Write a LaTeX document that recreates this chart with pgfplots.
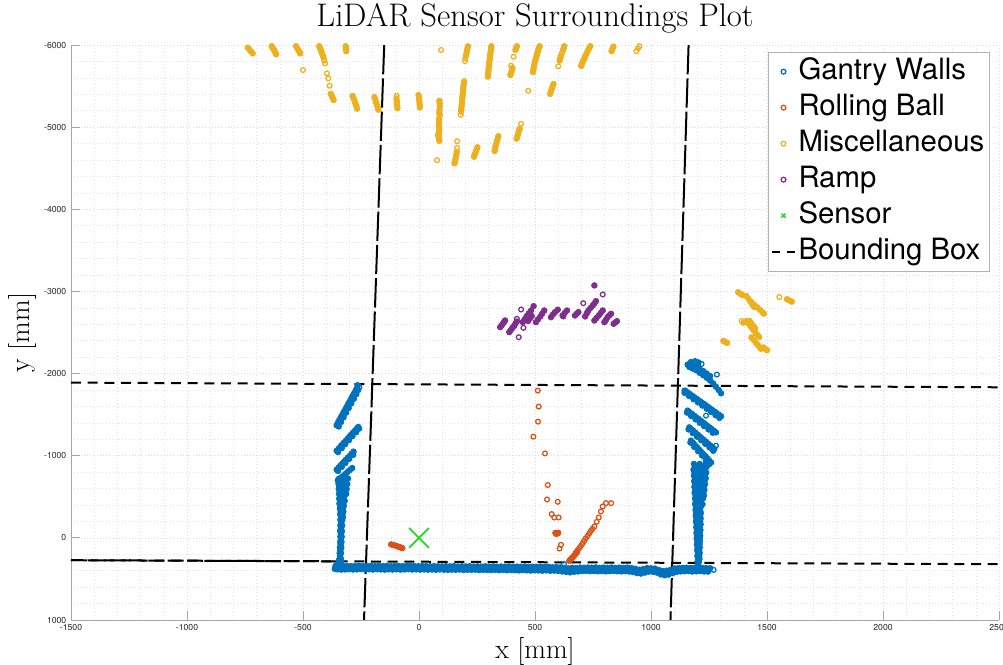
\documentclass[border=0pt]{standalone}
\usepackage{fontspec}
\usepackage{pgfplots}
\pgfplotsset{compat=1.18}
\newfontfamily\heros{TeX Gyre Heros}
\definecolor{mblue}{RGB}{0,114,189}
\definecolor{morange}{RGB}{217,83,25}
\definecolor{myellow}{RGB}{237,177,32}
\definecolor{mpurple}{RGB}{126,47,142}
\definecolor{mgreen}{RGB}{30,220,30}
\pgfplotsset{
  openpt/.style={only marks, mark=o, mark size=1.8pt, line width=0.95pt},
  fillpt/.style={only marks, mark=*, mark size=2.15pt, line width=0.5pt, forget plot},
}
\begin{document}
\begin{tikzpicture}
\begin{axis}[
  scale only axis, width=696pt, height=431.25pt,
  xmin=-1500, xmax=2500, ymin=-6000, ymax=1000, y dir=reverse,
  xtick={-1500,-1000,-500,0,500,1000,1500,2000,2500},
  xticklabels={-1500,-1000,-500,0,500,1000,1500,2000,2500},
  ytick={-6000,-5000,-4000,-3000,-2000,-1000,0,1000},
  yticklabels={-6000,-5000,-4000,-3000,-2000,-1000,0,1000},
  minor x tick num=4, minor y tick num=4,
  grid=both,
  major grid style={gray!28, dotted, line width=0.45pt},
  minor grid style={gray!22, dotted, line width=0.4pt},
  axis x line*=bottom, axis y line*=left,
  axis line style={gray!70, line width=0.6pt},
  tick align=inside, major tick length=6.5pt, minor tick length=0pt,
  tick style={gray!70, line width=0.6pt},
  tick label style={font=\heros\fontsize{6.5}{7}\selectfont, black!85},
  title={LiDAR Sensor Surroundings Plot},
  title style={at={(axis description cs:0.5,1)}, anchor=base, yshift=8pt, font=\fontsize{24.5}{28}\selectfont},
  xlabel={x [mm]}, ylabel={y [mm]},
  xlabel style={at={(axis description cs:0.5,0)}, anchor=base, yshift=-29pt, font=\fontsize{21}{25}\selectfont},
  ylabel style={at={(axis description cs:0,0.5)}, anchor=base, yshift=31pt, font=\fontsize{21}{25}\selectfont},
  legend cell align=left,
  legend image code/.code={\draw[mark repeat=2,mark phase=2,#1] plot coordinates {(0pt,0pt) (8.5pt,0pt) (17pt,0pt)};},
  legend style={at={(axis description cs:1,1)}, anchor=north east, xshift=-6.75pt, yshift=-5.25pt,
    draw=gray!60, fill=white, line width=0.5pt, font=\heros\fontsize{22}{26}\selectfont,
    row sep=0pt, inner xsep=2pt, inner ysep=1pt,
    nodes={inner xsep=2pt, inner ysep=1.75pt, text height=17.5pt, text depth=6pt}},
]
% ---------- dense (filled) point clusters ----------
% Gantry walls: bottom wall, row A
\addplot[fillpt, color=mblue] table[row sep=\\] {x y\\
-360 342\\ -343 344\\ -326 341\\ -309 343\\ -292 345\\ -275 342\\ -258 340\\ -241 344\\ -224 343\\ -207 341\\
-190 345\\ -173 342\\ -156 344\\ -139 341\\ -122 346\\ -105 343\\ -88 342\\ -71 345\\ -54 343\\ -37 341\\
-20 344\\ -3 346\\ 14 343\\ 31 345\\ 48 347\\ 65 344\\ 82 346\\ 99 348\\ 116 345\\ 133 347\\
150 344\\ 167 349\\ 184 346\\ 201 348\\ 218 345\\ 235 350\\ 252 347\\ 269 349\\ 286 346\\ 303 351\\
320 348\\ 337 352\\ 354 349\\ 371 351\\ 388 348\\ 405 353\\ 422 350\\ 439 352\\ 456 349\\ 473 354\\
490 351\\ 507 353\\ 524 350\\ 541 355\\ 558 352\\ 575 358\\ 592 356\\ 609 360\\ 626 366\\ 643 371\\
660 364\\ 677 368\\ 694 362\\ 711 364\\ 728 361\\ 745 363\\ 762 360\\ 779 365\\ 796 362\\ 813 364\\
830 361\\ 847 366\\ 864 363\\ 881 365\\ 898 362\\ 915 367\\ 932 376\\ 949 388\\ 966 380\\ 983 368\\
1000 371\\ 1017 374\\ 1034 391\\ 1051 404\\ 1068 400\\ 1085 388\\ 1102 372\\ 1119 368\\ 1136 366\\ 1153 364\\
1170 367\\ 1187 365\\ 1204 363\\ 1221 366\\ 1238 368\\ 1255 370\\
};
% bottom wall, row B
\addplot[fillpt, color=mblue] table[row sep=\\] {x y\\
-352 383\\ -335 387\\ -318 385\\ -301 382\\ -284 386\\ -267 384\\ -250 381\\ -233 385\\ -216 383\\ -199 386\\
-182 382\\ -165 385\\ -148 387\\ -131 384\\ -114 386\\ -97 383\\ -80 387\\ -63 385\\ -46 382\\ -29 386\\
-12 384\\ 5 387\\ 22 385\\ 39 388\\ 56 386\\ 73 389\\ 90 385\\ 107 388\\ 124 390\\ 141 387\\
158 389\\ 175 386\\ 192 391\\ 209 388\\ 226 390\\ 243 387\\ 260 392\\ 277 389\\ 294 391\\ 311 393\\
328 390\\ 345 394\\ 362 391\\ 379 395\\ 396 392\\ 413 394\\ 430 397\\ 447 393\\ 464 396\\ 481 398\\
498 395\\ 515 397\\ 532 400\\ 549 396\\ 566 401\\ 583 399\\ 600 403\\ 617 409\\ 634 415\\ 651 420\\
668 413\\ 685 409\\ 702 405\\ 719 403\\ 736 406\\ 753 404\\ 770 407\\ 787 405\\ 804 408\\ 821 406\\
838 403\\ 855 407\\ 872 409\\ 889 406\\ 906 410\\ 923 417\\ 940 430\\ 957 435\\ 974 423\\ 991 411\\
1008 413\\ 1025 423\\ 1042 445\\ 1059 455\\ 1076 447\\ 1093 430\\ 1110 415\\ 1127 409\\ 1144 407\\ 1161 405\\
1178 410\\ 1195 408\\ 1212 405\\ 1229 409\\ 1246 411\\
};
% left wall column
\addplot[fillpt, color=mblue] table[row sep=\\] {x y\\
-345 -720\\ -324 -718\\ -306 -722\\ -342 -688\\ -318 -690\\ -347 -657\\ -326 -660\\ -309 -655\\
-343 -626\\ -320 -630\\ -346 -596\\ -327 -600\\ -312 -594\\ -341 -566\\ -322 -570\\ -345 -536\\
-328 -540\\ -314 -535\\ -340 -506\\ -322 -510\\ -344 -476\\ -327 -480\\ -339 -446\\ -320 -450\\
-343 -416\\ -328 -420\\ -338 -386\\ -324 -390\\ -341 -356\\ -329 -352\\ -337 -322\\ -326 -318\\
-340 -288\\ -330 -284\\ -336 -254\\ -328 -250\\ -339 -220\\ -331 -216\\ -336 -186\\ -339 -152\\
-331 -150\\ -337 -118\\ -340 -84\\ -332 -82\\ -337 -50\\ -339 -16\\ -333 -14\\ -337 18\\
-340 52\\ -334 50\\ -338 86\\ -341 120\\ -335 118\\ -339 154\\ -342 188\\ -336 186\\
-340 222\\ -343 256\\ -337 254\\ -346 290\\ -336 288\\ -352 320\\ -338 322\\ -358 350\\
-343 352\\ -363 378\\ -348 380\\
};
% left wall streaks
\addplot[fillpt, color=mblue] table[row sep=\\] {x y\\
-355 -1370\\ -350 -1398\\ -345 -1425\\ -339 -1455\\ -334 -1482\\ -328 -1510\\ -323 -1538\\ -317 -1566\\
-312 -1594\\ -306 -1624\\ -301 -1650\\ -295 -1680\\ -290 -1706\\ -284 -1736\\ -279 -1762\\ -273 -1792\\
-268 -1820\\ -264 -1858\\
-346 -1356\\ -336 -1411\\ -325 -1468\\ -314 -1524\\ -303 -1580\\ -292 -1636\\ -281 -1692\\ -270 -1748\\ -262 -1800\\
-355 -1060\\ -347 -1084\\ -339 -1108\\ -332 -1132\\ -324 -1157\\ -316 -1181\\ -308 -1205\\ -301 -1229\\
-293 -1253\\ -285 -1278\\ -277 -1302\\ -270 -1326\\ -262 -1350\\
-349 -1044\\ -333 -1092\\ -318 -1141\\ -302 -1189\\ -287 -1238\\ -271 -1286\\ -258 -1330\\
-355 -830\\ -347 -854\\ -339 -879\\ -331 -903\\ -323 -928\\ -315 -952\\ -307 -977\\ -298 -1001\\
-290 -1026\\ -282 -1050\\
-349 -814\\ -333 -863\\ -317 -912\\ -301 -961\\ -284 -1010\\
-350 -700\\ -340 -725\\ -329 -750\\ -319 -775\\ -309 -800\\ -298 -825\\ -288 -850\\
};
% right wall streaks
\addplot[fillpt, color=mblue] table[row sep=\\] {x y\\
1158 -2110\\ 1172 -2140\\ 1190 -2150\\ 1205 -2135\\ 1165 -2080\\ 1180 -2060\\ 1195 -2040\\ 1210 -2010\\
1225 -1980\\ 1240 -1950\\ 1255 -1915\\ 1268 -1880\\ 1280 -1840\\ 1292 -1800\\ 1302 -1760\\
1180 -2110\\ 1195 -2085\\ 1210 -2060\\ 1225 -2030\\ 1240 -2000\\ 1255 -1970\\
1148 -1790\\ 1158 -1771\\ 1167 -1752\\ 1177 -1732\\ 1186 -1713\\ 1196 -1694\\ 1206 -1674\\ 1215 -1655\\
1225 -1636\\ 1235 -1616\\ 1244 -1597\\ 1254 -1577\\ 1263 -1558\\ 1273 -1539\\ 1283 -1519\\ 1292 -1500\\ 1302 -1480\\
1145 -1765\\ 1164 -1727\\ 1183 -1688\\ 1202 -1650\\ 1221 -1611\\ 1240 -1572\\ 1259 -1533\\ 1278 -1494\\ 1295 -1460\\
1158 -1549\\ 1167 -1529\\ 1177 -1508\\ 1186 -1488\\ 1195 -1467\\ 1205 -1447\\ 1214 -1427\\ 1224 -1406\\
1233 -1386\\ 1242 -1366\\ 1252 -1345\\ 1261 -1325\\ 1271 -1304\\ 1280 -1284\\
1155 -1525\\ 1173 -1484\\ 1192 -1443\\ 1210 -1402\\ 1229 -1361\\ 1248 -1320\\ 1266 -1280\\
1165 -1345\\ 1174 -1323\\ 1183 -1301\\ 1192 -1279\\ 1201 -1257\\ 1210 -1235\\ 1219 -1213\\ 1228 -1191\\
1237 -1170\\ 1246 -1148\\ 1255 -1126\\ 1264 -1104\\ 1273 -1082\\
1162 -1320\\ 1180 -1276\\ 1198 -1232\\ 1216 -1188\\ 1234 -1145\\ 1252 -1101\\ 1268 -1060\\
1172 -1183\\ 1181 -1157\\ 1189 -1130\\ 1198 -1104\\ 1207 -1077\\ 1215 -1051\\ 1224 -1024\\ 1233 -998\\
1242 -971\\ 1250 -945\\ 1259 -918\\
1170 -1160\\ 1186 -1108\\ 1203 -1055\\ 1220 -1002\\ 1236 -950\\ 1252 -900\\
};
% right wall column
\addplot[fillpt, color=mblue] table[row sep=\\] {x y\\
1185 -900\\ 1210 -900\\ 1235 -900\\ 1190 -865\\ 1215 -865\\ 1240 -865\\ 1183 -830\\ 1208 -830\\ 1232 -830\\
1188 -795\\ 1213 -795\\ 1238 -795\\ 1185 -760\\ 1210 -760\\ 1232 -760\\ 1190 -725\\ 1214 -725\\ 1236 -725\\
1186 -690\\ 1208 -690\\ 1230 -690\\ 1190 -655\\ 1213 -655\\ 1233 -655\\ 1187 -620\\ 1210 -620\\ 1228 -620\\
1191 -585\\ 1213 -585\\ 1230 -585\\ 1188 -550\\ 1209 -550\\ 1226 -550\\ 1192 -515\\ 1212 -515\\ 1228 -515\\
1190 -480\\ 1210 -480\\ 1224 -480\\ 1193 -445\\ 1213 -445\\ 1190 -410\\ 1210 -410\\ 1222 -410\\
1194 -375\\ 1214 -375\\ 1192 -340\\ 1211 -340\\ 1195 -305\\ 1215 -305\\ 1193 -270\\ 1212 -270\\
1196 -235\\ 1214 -235\\ 1194 -200\\ 1212 -200\\ 1197 -165\\ 1214 -165\\ 1195 -130\\ 1211 -130\\
1198 -95\\ 1213 -95\\ 1196 -60\\ 1210 -60\\ 1199 -25\\ 1212 -25\\ 1197 10\\ 1210 10\\ 1200 45\\ 1211 45\\
1198 80\\ 1209 80\\ 1201 115\\ 1210 115\\ 1199 150\\ 1208 150\\ 1202 185\\ 1210 185\\ 1200 220\\ 1208 220\\
1203 255\\ 1209 255\\ 1201 290\\ 1207 290\\ 1203 325\\
};
% Rolling ball dense parts
\addplot[fillpt, color=morange] table[row sep=\\] {x y\\
-120 80\\ -110 88\\ -100 96\\ -92 104\\ -84 112\\ -76 120\\ -72 126\\
588 -60\\ 598 -55\\ 592 -48\\ 600 -62\\
648 280\\ 653 265\\ 658 250\\ 663 235\\ 669 215\\ 675 195\\ 681 175\\
};
% Miscellaneous dense parts
\addplot[fillpt, color=myellow] table[row sep=\\] {x y\\
-738 -5967\\ -731 -5944\\ -724 -5921\\ -717 -5898\\
-635 -5985\\ -631 -5965\\ -626 -5945\\ -622 -5925\\ -618 -5900\\ -616 -5886\\
-530 -5985\\ -525 -5960\\ -519 -5935\\ -514 -5912\\ -512 -5898\\
-430 -5985\\ -427 -5965\\ -424 -5945\\ -421 -5922\\ -418 -5900\\ -415 -5875\\ -412 -5850\\
-380 -5405\\ -376 -5380\\ -372 -5355\\ -368 -5330\\
-316 -5985\\ -315 -5955\\ -314 -5925\\
-286 -5380\\ -282 -5350\\ -278 -5320\\ -274 -5285\\ -270 -5255\\ -267 -5225\\
-192 -5365\\ -188 -5335\\ -185 -5300\\ -181 -5270\\ -178 -5240\\ -175 -5212\\
-97 -5350\\ -96 -5320\\ -95 -5290\\ -94 -5260\\ -93 -5230\\
-2 -5390\\ 0 -5360\\ 1 -5330\\ 2 -5300\\ 3 -5270\\ 4 -5240\\
88 -5320\\ 89 -5290\\ 89 -5260\\ 88 -5200\\ 87 -5170\\ 87 -5110\\ 86 -5080\\ 86 -5050\\ 86 -5020\\
87 -4990\\ 87 -4960\\ 86 -4930\\ 86 -4870\\ 87 -4845\\
211 -5985\\ 209 -5960\\ 207 -5935\\ 205 -5905\\ 203 -5875\\
194 -5540\\ 192 -5510\\ 191 -5480\\ 190 -5450\\ 189 -5420\\ 188 -5390\\ 187 -5360\\ 186 -5330\\
185 -5300\\ 184 -5270\\ 183 -5240\\ 182 -5210\\
163 -4700\\ 161 -4670\\ 159 -4640\\ 157 -4610\\ 155 -4580\\ 153 -4560\\
252 -4755\\ 248 -4725\\ 244 -4695\\ 240 -4665\\ 237 -4640\\
312 -5985\\ 311 -5955\\ 309 -5915\\ 307 -5885\\ 306 -5855\\ 305 -5825\\ 303 -5795\\ 302 -5765\\
301 -5735\\ 300 -5705\\ 299 -5675\\ 298 -5645\\ 297 -5615\\
422 -5985\\ 419 -5965\\ 416 -5940\\ 403 -5720\\ 400 -5690\\ 397 -5660\\ 394 -5635\\
520 -5985\\ 517 -5965\\ 514 -5940\\ 511 -5910\\ 508 -5880\\ 505 -5850\\ 502 -5820\\ 499 -5790\\
497 -5760\\ 495 -5730\\ 493 -5700\\ 491 -5670\\
626 -5985\\ 624 -5965\\ 621 -5940\\ 612 -5870\\ 609 -5840\\ 606 -5810\\
738 -5985\\ 734 -5965\\ 730 -5945\\ 726 -5920\\ 722 -5895\\ 718 -5870\\ 714 -5845\\ 710 -5820\\
706 -5795\\ 702 -5770\\ 699 -5745\\
838 -5980\\ 834 -5955\\ 830 -5925\\
580 -5525\\ 576 -5495\\ 572 -5465\\ 568 -5435\\ 565 -5405\\
342 -4890\\ 339 -4860\\ 336 -4830\\ 333 -4800\\ 330 -4770\\ 328 -4740\\ 326 -4710\\
434 -4980\\ 430 -4950\\ 427 -4920\\ 424 -4890\\ 421 -4860\\
1376 -2990\\ 1385 -2972\\ 1394 -2955\\
1411 -2945\\ 1420 -2910\\ 1429 -2875\\ 1437 -2840\\ 1444 -2812\\
1434 -2865\\ 1446 -2835\\ 1458 -2805\\ 1470 -2775\\ 1482 -2745\\ 1486 -2730\\
1399 -2620\\
1412 -2640\\ 1420 -2610\\ 1428 -2580\\ 1436 -2550\\ 1444 -2520\\ 1452 -2490\\ 1460 -2465\\ 1466 -2445\\
1425 -2640\\ 1433 -2610\\ 1441 -2580\\ 1449 -2550\\
1433 -2440\\ 1442 -2410\\ 1451 -2380\\ 1460 -2350\\ 1468 -2320\\ 1474 -2302\\
1484 -2318\\ 1492 -2300\\ 1500 -2284\\
1312 -2398\\ 1320 -2386\\ 1328 -2374\\
1586 -2905\\ 1597 -2890\\ 1607 -2876\\
};
% Ramp dense parts
\addplot[fillpt, color=mpurple] table[row sep=\\] {x y\\
350 -2565\\ 356 -2586\\ 361 -2606\\ 366 -2626\\ 371 -2646\\
389 -2504\\ 394 -2524\\ 400 -2545\\ 405 -2565\\ 411 -2585\\ 416 -2610\\ 422 -2634\\
447 -2626\\ 455 -2660\\ 464 -2699\\ 473 -2733\\ 483 -2768\\ 494 -2821\\
470 -2640\\ 478 -2670\\ 486 -2700\\
504 -2626\\ 513 -2660\\ 523 -2695\\ 531 -2730\\ 540 -2768\\
569 -2687\\ 577 -2718\\ 586 -2748\\ 598 -2777\\
619 -2707\\ 628 -2737\\ 638 -2768\\
672 -2707\\ 680 -2728\\ 687 -2748\\
716 -2695\\ 723 -2731\\ 730 -2768\\ 740 -2800\\ 749 -2829\\ 756 -2855\\ 763 -2882\\
756 -2646\\ 765 -2676\\ 775 -2707\\ 783 -2737\\ 792 -2768\\
799 -2626\\ 806 -2656\\ 813 -2687\\ 820 -2708\\ 828 -2728\\
839 -2606\\ 846 -2622\\ 853 -2638\\
756 -3073\\
};
% ---------- legend series (open circles) ----------
\addplot[openpt, color=mblue] table[row sep=\\] {x y\\
-257 -1833\\ 1218 -2118\\ 1284 -1988\\ 1144 -1793\\ 1237 -1488\\ 1280 -1122\\ 1250 378\\ 625 317\\ 1270 390\\
};
\addlegendentry{Gantry Walls}
\addplot[openpt, color=morange] table[row sep=\\] {x y\\
512 -1793\\ 516 -1598\\ 513 -1415\\ 493 -1232\\ 543 -1028\\ 555 -643\\ 552 -467\\ 598 -439\\
572 -289\\ 583 -248\\ 602 -248\\ 612 85\\ 606 130\\
828 -423\\ 806 -423\\ 792 -382\\ 784 -321\\ 775 -248\\ 766 -195\\ 756 -138\\ 748 -110\\ 741 -85\\
734 -55\\ 727 -24\\ 719 5\\ 712 37\\ 705 67\\ 698 98\\ 691 124\\ 684 150\\ 676 180\\
};
\addlegendentry{Rolling Ball}
\addplot[openpt, color=myellow] table[row sep=\\] {x y\\
-500 -5695\\ -408 -5810\\ -405 -5776\\ -397 -5655\\ -391 -5594\\ -385 -5504\\ -96 -5382\\
90 -5240\\ 85 -4900\\ 88 -4830\\ 91 -5146\\ 81 -4902\\ 78 -4598\\ 95 -5939\\ 200 -5840\\ 198 -5805\\
195 -5560\\ 180 -5150\\ 181 -5187\\ 164 -4829\\ 164 -4748\\ 310 -5940\\ 306 -5880\\ 408 -5857\\
397 -5748\\ 616 -5900\\ 600 -5740\\ 950 -5985\\ 944 -5960\\ 937 -5925\\ 471 -5443\\ 440 -5040\\
1553 -2931\\ 1391 -2640\\
};
\addlegendentry{Miscellaneous}
\addplot[openpt, color=mpurple] table[row sep=\\] {x y\\
430 -2443\\ 450 -2557\\ 440 -2780\\ 422 -2667\\ 622 -2695\\ 802 -2634\\ 792 -2963\\ 708 -2857\\
};
\addlegendentry{Ramp}
\addplot[only marks, mark=x, mark size=10.5pt, line width=1.4pt, color=mgreen,
  legend image post style={mark size=2.2pt, line width=1pt}] coordinates {(0,0)};
\addlegendentry{Sensor}
% ---------- bounding box ----------
\addplot[black, line width=1.5pt, dash pattern=on 7.5pt off 5pt,
  legend image post style={dash pattern=on 6pt off 5pt}] coordinates {(-1500,-1890) (2500,-1833)};
\addlegendentry{Bounding Box}
\addplot[forget plot, black, line width=1.5pt, dash pattern=on 7.5pt off 5pt] coordinates {(-1500,272) (2500,321)};
\addplot[forget plot, black, line width=1.5pt, dash pattern=on 12pt off 2.5pt] coordinates {(-1500,272) (-330,286)};
\addplot[forget plot, black, line width=1.5pt, dash pattern=on 22pt off 3pt] coordinates {(-150,-6000) (-237,1000)};
\addplot[forget plot, black, line width=1.5pt, dash pattern=on 22pt off 3pt] coordinates {(1162,-6000) (1084,1000)};
\end{axis}
\pgfresetboundingbox
\useasboundingbox ([shift={(-53.25pt,-33.75pt)}]current axis.south west) rectangle ([shift={(3pt,33.75pt)}]current axis.north east);
\end{tikzpicture}
\end{document}
